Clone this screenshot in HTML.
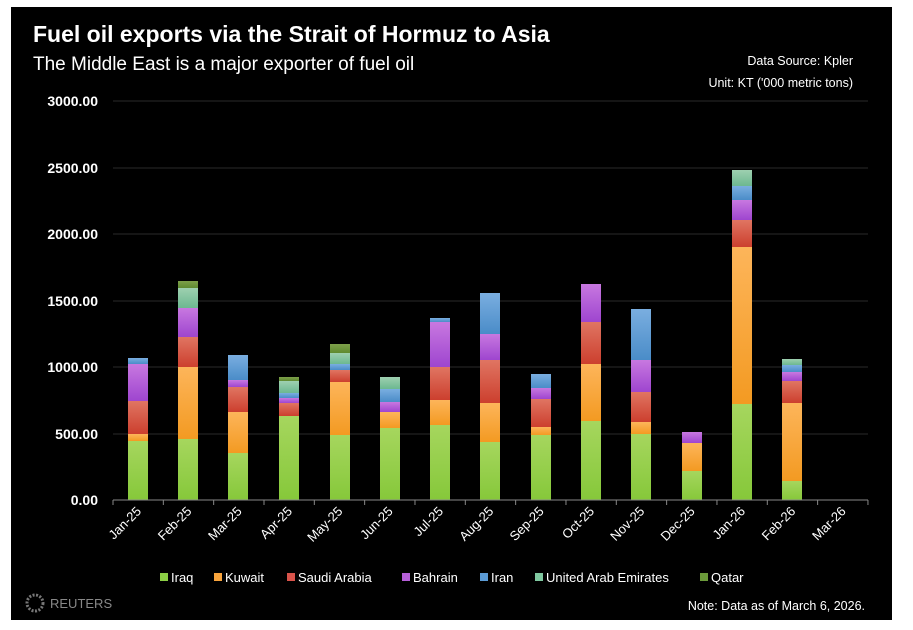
<!DOCTYPE html>
<html><head><meta charset="utf-8"><style>
html,body{margin:0;padding:0;background:#fff;width:913px;height:630px;overflow:hidden}
svg{display:block;font-family:"Liberation Sans",sans-serif}
</style></head><body>
<svg width="913" height="630" viewBox="0 0 913 630">
<rect x="11" y="7" width="881" height="613" fill="#000"/>
<text x="33" y="42" fill="#fff" font-size="23" font-weight="bold">Fuel oil exports via the Strait of Hormuz to Asia</text>
<text x="33" y="70" fill="#fff" font-size="19">The Middle East is a major exporter of fuel oil</text>
<text x="853" y="65" fill="#fff" font-size="12.5" text-anchor="end">Data Source: Kpler</text>
<text x="853" y="87" fill="#fff" font-size="12.5" text-anchor="end">Unit: KT ('000 metric tons)</text>
<g stroke="#2a2a2a" stroke-width="1">
<line x1="113" x2="868" y1="101" y2="101"/><line x1="113" x2="868" y1="168" y2="168"/><line x1="113" x2="868" y1="234" y2="234"/><line x1="113" x2="868" y1="301" y2="301"/><line x1="113" x2="868" y1="367" y2="367"/><line x1="113" x2="868" y1="434" y2="434"/>
</g>
<g fill="#fff" font-size="14" font-weight="bold" text-anchor="end">
<text x="98" y="106">3000.00</text><text x="98" y="173">2500.00</text><text x="98" y="239">2000.00</text><text x="98" y="306">1500.00</text><text x="98" y="372">1000.00</text><text x="98" y="439">500.00</text><text x="98" y="505">0.00</text>
</g>
<defs>
<linearGradient id="g1" x1="0" y1="0" x2="0" y2="1"><stop offset="0" stop-color="#a6d65e"/><stop offset="1" stop-color="#86c83a"/></linearGradient>
<linearGradient id="g2" x1="0" y1="0" x2="0" y2="1"><stop offset="0" stop-color="#fdb55a"/><stop offset="1" stop-color="#f39a22"/></linearGradient>
<linearGradient id="g3" x1="0" y1="0" x2="0" y2="1"><stop offset="0" stop-color="#e07562"/><stop offset="1" stop-color="#cc3f2e"/></linearGradient>
<linearGradient id="g4" x1="0" y1="0" x2="0" y2="1"><stop offset="0" stop-color="#c878e0"/><stop offset="1" stop-color="#9e45cf"/></linearGradient>
<linearGradient id="g5" x1="0" y1="0" x2="0" y2="1"><stop offset="0" stop-color="#7aaee0"/><stop offset="1" stop-color="#4a8cc8"/></linearGradient>
<linearGradient id="g6" x1="0" y1="0" x2="0" y2="1"><stop offset="0" stop-color="#9ed0b0"/><stop offset="1" stop-color="#6cb890"/></linearGradient>
<linearGradient id="g7" x1="0" y1="0" x2="0" y2="1"><stop offset="0" stop-color="#7ea04a"/><stop offset="1" stop-color="#5e8a30"/></linearGradient>
</defs>
<g id="bars"></g>
<line x1="113" x2="868" y1="500" y2="500" stroke="#888" stroke-width="1"/>
<g id="ticks" stroke="#888"></g>
<g id="xl" fill="#fff" font-size="13"></g>
<g font-size="13" fill="#fff">
<rect x="160" y="573" width="8" height="8" fill="#8ccf45"/><text x="171" y="582">Iraq</text>
<rect x="214" y="573" width="8" height="8" fill="#f9a43c"/><text x="225" y="582">Kuwait</text>
<rect x="287" y="573" width="8" height="8" fill="#d9534a"/><text x="298" y="582">Saudi Arabia</text>
<rect x="402" y="573" width="8" height="8" fill="#b65fd8"/><text x="413" y="582">Bahrain</text>
<rect x="480" y="573" width="8" height="8" fill="#5b9bd5"/><text x="491" y="582">Iran</text>
<rect x="535" y="573" width="8" height="8" fill="#7fc8a0"/><text x="546" y="582">United Arab Emirates</text>
<rect x="700" y="573" width="8" height="8" fill="#6b9a3a"/><text x="711" y="582">Qatar</text>
</g>
<text x="865" y="610" fill="#fff" font-size="12.5" text-anchor="end">Note: Data as of March 6, 2026.</text>
<circle cx="35" cy="603" r="8" fill="none" stroke="#777" stroke-width="3" stroke-dasharray="2 1.5"/>
<text x="50" y="608" fill="#888" font-size="13">REUTERS</text>
</svg>
<script>
var d=[
[128,[441,434,401,364,358]],
[178,[439,367,337,308,308,288,281]],
[228,[453,412,387,380,355]],
[279,[416,416,403,398,393,381,377]],
[330,[435,382,370,370,364,353,344]],
[380,[428,412,412,402,389,377]],
[430,[425,400,367,322,318]],
[480,[442,403,360,334,293]],
[531,[435,427,399,388,374]],
[581,[421,364,322,284]],
[631,[434,422,392,360,309]],
[682,[471,443,443,432]],
[732,[404,247,220,200,186,170]],
[782,[481,403,381,372,365,359]]];
var ns="http://www.w3.org/2000/svg",b=document.getElementById('bars');
d.forEach(function(c){var prev=500;c[1].forEach(function(t,i){if(prev-t>0){var r=document.createElementNS(ns,'rect');r.setAttribute('x',c[0]);r.setAttribute('width',20);r.setAttribute('y',t);r.setAttribute('height',prev-t);r.setAttribute('fill','url(#g'+(i+1)+')');b.appendChild(r);}prev=t;});});
var lab=['Jan-25','Feb-25','Mar-25','Apr-25','May-25','Jun-25','Jul-25','Aug-25','Sep-25','Oct-25','Nov-25','Dec-25','Jan-26','Feb-26','Mar-26'];
var tk=document.getElementById('ticks'),xl=document.getElementById('xl');
for(var i=0;i<=15;i++){var x=113+i*50.33;var l=document.createElementNS(ns,'line');l.setAttribute('x1',x);l.setAttribute('x2',x);l.setAttribute('y1',500);l.setAttribute('y2',505);tk.appendChild(l);}
lab.forEach(function(s,i){var x=138+i*50.33+4,y=512;var t=document.createElementNS(ns,'text');t.setAttribute('x',x);t.setAttribute('y',y);t.setAttribute('text-anchor','end');t.setAttribute('transform','rotate(-45 '+x+' '+y+')');t.textContent=s;xl.appendChild(t);});
</script>
</body></html>
